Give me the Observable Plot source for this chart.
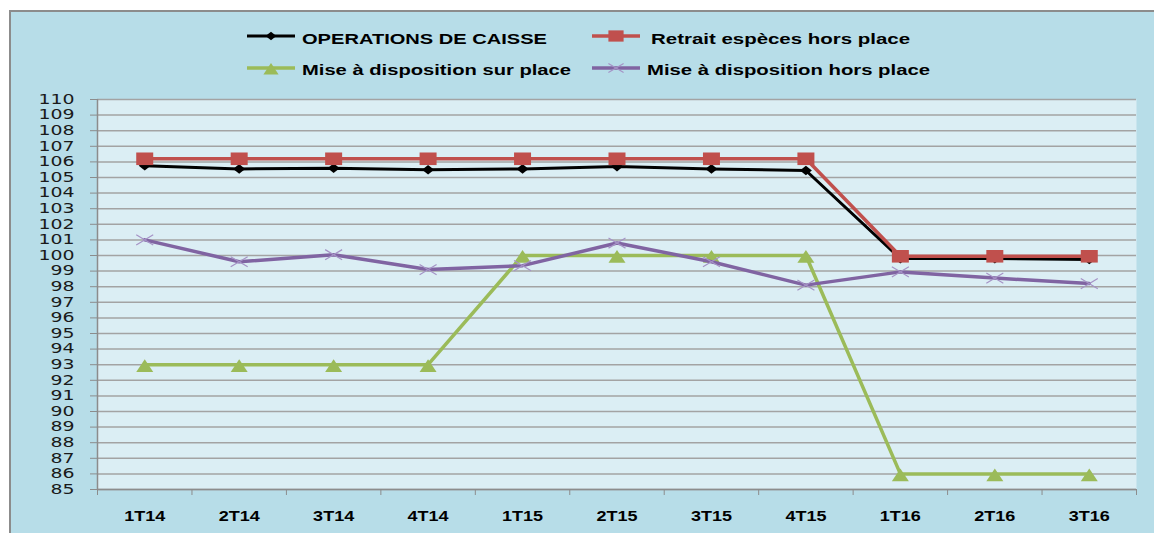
<!DOCTYPE html>
<html><head><meta charset="utf-8">
<script src="https://cdn.jsdelivr.net/npm/d3@7"></script>
<script src="https://cdn.jsdelivr.net/npm/@observablehq/plot@0.6"></script>
<style>
body{margin:0;background:#fff;width:1154px;height:533px;overflow:hidden;position:relative;font-family:"Liberation Sans",Arial,sans-serif}
#frame{position:absolute;left:9px;top:10px;right:0;bottom:0;background:#b7dde8;border-left:2px solid #8c8c8c;border-top:2px solid #8c8c8c}
#legend{position:absolute;left:0;top:0}
#chart{position:absolute;left:0;top:80px}
</style></head><body>
<div id="frame"></div>
<svg id="legend" width="1154" height="80"></svg>
<div id="chart"></div>
<script>
// ---- data ----
const quarters = ["1T14","2T14","3T14","4T14","1T15","2T15","3T15","4T15","1T16","2T16","3T16"];
const operationsCaisse = [105.75,105.55,105.6,105.5,105.55,105.7,105.55,105.45,99.8,99.8,99.75];
const retraitHorsPlace = [106.2,106.2,106.2,106.2,106.2,106.2,106.2,106.2,99.95,99.95,99.95];
const miseSurPlace = [93,93,93,93,100,100,100,100,86,86,86];
const miseHorsPlace = [101.0,99.6,100.05,99.1,99.35,100.8,99.6,98.1,98.95,98.55,98.2];
const seriesNames = ["OPERATIONS DE CAISSE","Retrait espèces hors place","Mise à disposition sur place","Mise à disposition hors place"];
const yTicks = [85,86,87,88,89,90,91,92,93,94,95,96,97,98,99,100,101,102,103,104,105,106,107,108,109,110];

// ---- marker shapes ----
const diamond = {draw(c, size){const r=Math.sqrt(size/Math.PI); c.moveTo(0,-r*0.8); c.lineTo(r,0); c.lineTo(0,r*0.8); c.lineTo(-r,0); c.closePath();}};
const wideSquare = {draw(c, size){const r=Math.sqrt(size/Math.PI); c.rect(-r,-r*0.74,2*r,1.48*r);}};
const wideTriangle = {draw(c, size){const r=Math.sqrt(size/Math.PI); c.moveTo(0,-r*0.65); c.lineTo(r,r*0.85); c.lineTo(-r,r*0.85); c.closePath();}};
const wideCross = {draw(c, size){const r=Math.sqrt(size/Math.PI); c.moveTo(-r,-r*0.6); c.lineTo(r,r*0.6); c.moveTo(-r,r*0.6); c.lineTo(r,-r*0.6);}};

const series = [
  {name: seriesNames[0], values: operationsCaisse, color:"#000000", width:3, symbol: diamond, r:6, fill:"#000000", stroke:"none", sw:0},
  {name: seriesNames[1], values: retraitHorsPlace, color:"#c0504d", width:3.5, symbol: wideSquare, r:8.5, fill:"#c0504d", stroke:"none", sw:0},
  {name: seriesNames[2], values: miseSurPlace, color:"#9bbb59", width:3.5, symbol: wideTriangle, r:8.5, fill:"#9bbb59", stroke:"none", sw:0},
  {name: seriesNames[3], values: miseHorsPlace, color:"#8064a2", width:3.5, symbol: wideCross, r:8.5, fill:"none", stroke:"#a593c6", sw:1.2}
];

const idx = quarters.map((_, i) => i);
const boundaries = quarters.map((_, i) => i - 0.5).concat([quarters.length - 0.5]);

const marks = [
  Plot.frame({fill:"#dbeef4", stroke:null}),
  Plot.gridY(yTicks, {stroke:"#a3a3a3", strokeOpacity:1, strokeWidth:1.5}),
  Plot.ruleX([-0.5], {stroke:"#8c8c8c", strokeWidth:1.5}),
  Plot.ruleY([85], {stroke:"#8c8c8c", strokeWidth:1.5}),
  Plot.axisY(yTicks, {tickSize:7, tickPadding:16, fontSize:13.5, stroke:"#8c8c8c", fill:"#1a1a1a", label:null}),
  Plot.axisX(boundaries, {tickSize:6, tickFormat:() => "", stroke:"#8c8c8c", label:null}),
  Plot.axisX(idx, {tickSize:0, tickPadding:21, tickFormat: i => quarters[i], fontSize:15, fill:"#000", label:null})
];
for (const s of series) {
  marks.push(Plot.line(idx, {x: i => i, y: i => s.values[i], stroke: s.color, strokeWidth: s.width, curve:"linear"}));
  marks.push(Plot.dot(idx, {x: i => i, y: i => s.values[i], symbol: s.symbol, r: s.r, fill: s.fill, stroke: s.stroke, strokeWidth: s.sw}));
}

const chart = Plot.plot({
  width:1154, height:453,
  marginLeft:97, marginRight:18, marginTop:19, marginBottom:44,
  style:{background:"transparent", overflow:"visible"},
  x:{type:"linear", domain:[-0.5, quarters.length - 0.5], label:null},
  y:{domain:[85,110], label:null},
  marks
});
document.getElementById("chart").appendChild(chart);

// font styling of axis labels (horizontally stretched like the original)
d3.select(chart).selectAll('g[aria-label="y-axis tick label"] text').each(function(){
  this.style.fontFamily = '"DejaVu Sans", Verdana, sans-serif';
  const w = this.getComputedTextLength();
  this.setAttribute("textLength", w * 1.4);
  this.setAttribute("lengthAdjust", "spacingAndGlyphs");
});
d3.select(chart).selectAll('g[aria-label="x-axis tick label"] text').each(function(){
  this.style.fontFamily = '"Liberation Sans", Arial, sans-serif';
  this.style.fontWeight = "bold";
  const w = this.getComputedTextLength();
  if (w > 0) {
    this.setAttribute("textLength", w * 1.2);
    this.setAttribute("lengthAdjust", "spacingAndGlyphs");
  }
});

// ---- legend ----
const leg = d3.select("#legend");
const legendPos = [
  {lx:247, ly:36, tx:302, ty:43.5, tw:245},
  {lx:592, ly:36, tx:651, ty:43.5, tw:259},
  {lx:247, ly:68, tx:302, ty:75, tw:269},
  {lx:592, ly:68, tx:647, ty:75, tw:283}
];
series.forEach((s, k) => {
  const p = legendPos[k];
  const g = leg.append("g");
  g.append("line").attr("x1", p.lx).attr("x2", p.lx + 48).attr("y1", p.ly).attr("y2", p.ly)
    .attr("stroke", s.color).attr("stroke-width", s.width);
  g.append("path").attr("transform", `translate(${p.lx + 24},${p.ly})`)
    .attr("d", d3.symbol().type(s.symbol).size(Math.PI * s.r * s.r * 0.8)())
    .attr("fill", s.fill).attr("stroke", s.stroke).attr("stroke-width", s.sw);
  g.append("text").attr("x", p.tx).attr("y", p.ty).text(s.name)
    .attr("font-family", '"Liberation Sans", Arial, sans-serif').attr("font-weight", "bold").attr("font-size", 15)
    .attr("textLength", p.tw).attr("lengthAdjust", "spacingAndGlyphs").attr("fill", "#000");
});
</script>
</body></html>
